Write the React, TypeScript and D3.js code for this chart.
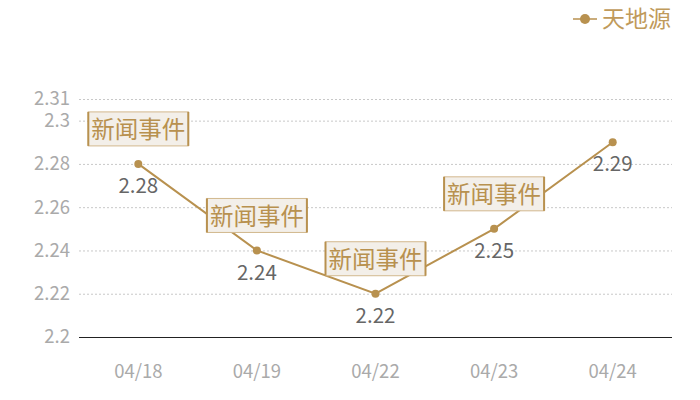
import React from "react";
import * as d3 from "d3";

const categories = ["04/18", "04/19", "04/22", "04/23", "04/24"];
const values = [2.28, 2.24, 2.22, 2.25, 2.29];
const yTicks = [2.2, 2.22, 2.24, 2.26, 2.28, 2.3, 2.31];
const seriesName = "天地源";
const annotationText = "新闻事件";
const annotatedIdx = [0, 1, 2, 3];

export default function App() {
  const W = 700, H = 400;
  const left = 79, right = 672, top = 99, bottom = 337;
  const x = d3.scaleBand().domain(categories).range([left, right]);
  const y = d3.scaleLinear().domain([2.2, 2.31]).range([bottom, top]);
  const cx = (c: string) => (x(c) as number) + x.bandwidth() / 2;
  const line = d3.line<number>().x((_, i) => cx(categories[i])).y((d) => y(d));
  const gold = "#b8914f";
  const font = "'Noto Sans CJK SC', 'Open Sans', sans-serif";
  return (
    <svg width={W} height={H} style={{ position: "absolute", left: 0, top: 0 }} fontFamily={font}>
      <rect width={W} height={H} fill="#fff" />
      {yTicks.map((t) => (
        <g key={t}>
          {t !== 2.2 && (
            <line x1={left} x2={right} y1={y(t) + 0.5} y2={y(t) + 0.5} stroke="#c8c8c8" strokeDasharray="2,2" strokeWidth={1} />
          )}
          <text x={70} y={y(t)} dy="0.35em" textAnchor="end" fontSize={18.5} fill="#aaaaaa">
            {String(t)}
          </text>
        </g>
      ))}
      <line x1={left} x2={right} y1={y(2.2) + 0.5} y2={y(2.2) + 0.5} stroke="#222" strokeWidth={1} shapeRendering="crispEdges" />
      {categories.map((c) => (
        <text key={c} x={cx(c)} y={372} dy="0.35em" textAnchor="middle" fontSize={18.5} fill="#aaaaaa">
          {c}
        </text>
      ))}
      <path d={line(values) || ""} fill="none" stroke={gold} strokeWidth={2} />
      {values.map((v, i) => (
        <circle key={i} cx={cx(categories[i])} cy={y(v)} r={4} fill={gold} />
      ))}
      {values.map((v, i) => (
        <text key={"l" + i} x={cx(categories[i])} y={y(v) + 22} dy="0.35em" textAnchor="middle" fontSize={20.5} fill="#666">
          {String(v)}
        </text>
      ))}
      {annotatedIdx.map((i) => {
        const px = cx(categories[i]);
        const py = y(values[i]);
        const bw = 100, bh = 34;
        const bx = px - bw / 2, by = py - 18 - bh;
        return (
          <g key={"a" + i}>
            <rect x={bx} y={by} width={bw} height={bh} fill="#f3efe9" stroke="#d2b88e" strokeWidth={1} />
            <line x1={bx} x2={bx} y1={by} y2={by + bh} stroke={gold} strokeWidth={2} />
            <line x1={bx + bw} x2={bx + bw} y1={by} y2={by + bh} stroke={gold} strokeWidth={2} />
            <text x={px} y={by + bh / 2 + 1} dy="0.35em" textAnchor="middle" fontSize={23.5} fill="#b8914f">
              {annotationText}
            </text>
          </g>
        );
      })}
      <g>
        <line x1={573} x2={597} y1={19} y2={19} stroke={gold} strokeWidth={1.5} />
        <circle cx={585} cy={19} r={5} fill={gold} />
        <text x={602} y={19} dy="0.35em" fontSize={23} fill="#c09a5b">
          {seriesName}
        </text>
      </g>
    </svg>
  );
}
